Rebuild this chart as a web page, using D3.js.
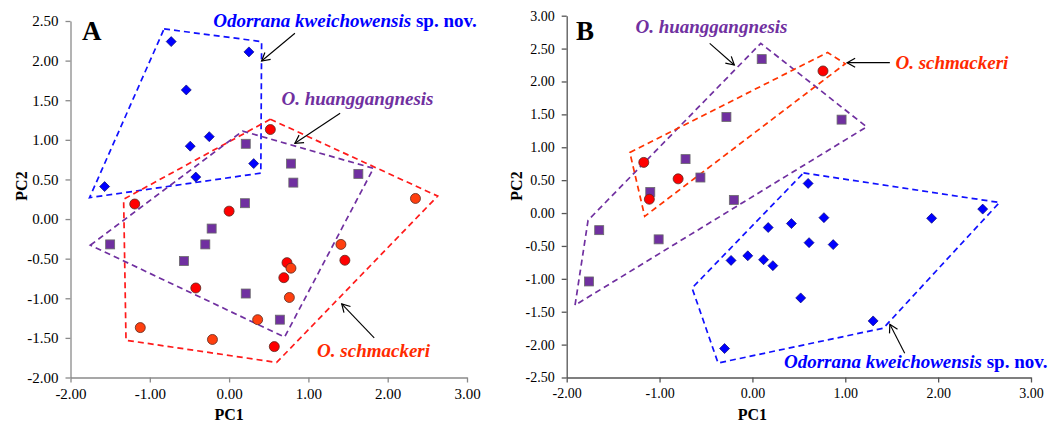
<!DOCTYPE html>
<html>
<head>
<meta charset="utf-8">
<script src="https://cdn.jsdelivr.net/npm/d3@7"></script>
<style>
  body { margin: 0; background: #fff; }
  svg text { font-family: 'Liberation Serif', Tinos, 'Times New Roman', Times, 'DejaVu Serif', serif !important; }
</style>
</head>
<body>
<svg id="chart" width="1064" height="423"></svg>
<script>
// ---- data: panel A ----
const aKweichowensis = [[-0.73, 2.24], [0.25, 2.11], [-0.54, 1.63], [-0.49, 0.92], [-0.25, 1.04],
  [-0.42, 0.53], [0.31, 0.70], [-1.57, 0.41]];
const aHuanggangnesis = [[0.21, 0.95], [0.20, 0.20], [0.78, 0.70], [0.81, 0.46], [1.63, 0.57],
  [-1.50, -0.32], [-0.22, -0.12], [-0.30, -0.32], [-0.57, -0.53], [0.21, -0.94], [0.64, -1.27]];
const aSchmackeriRed = [[0.52, 1.13], [-1.19, 0.19], [0.00, 0.10], [-0.42, -0.87], [1.46, -0.52],
  [0.73, -0.55], [0.69, -0.74], [0.57, -1.61]];
const aSchmackeriOrange = [[2.35, 0.26], [-1.12, -1.37], [-0.21, -1.52], [1.41, -0.32],
  [0.78, -0.62], [0.76, -0.99], [0.36, -1.27]];
const aHullKweichowensis = [[-0.82, 2.40], [0.41, 2.24], [0.40, 0.58], [-1.76, 0.27]];
const aHullSchmackeri = [[0.52, 1.26], [2.63, 0.29], [0.60, -1.81], [-1.30, -1.53], [-1.33, 0.25]];
const aHullHuanggangnesis = [[-1.75, -0.33], [0.17, 1.11], [1.82, 0.64], [0.70, -1.49]];

// ---- data: panel B ----
const bKweichowensis = [[0.60, 0.45], [2.48, 0.06], [1.93, -0.08], [0.77, -0.07], [0.42, -0.16],
  [0.61, -0.45], [0.87, -0.48], [0.17, -0.22], [0.22, -0.80], [-0.05, -0.65], [0.12, -0.71],
  [-0.23, -0.72], [0.52, -1.29], [1.30, -1.64], [-0.30, -2.06]];
const bHuanggangnesis = [[0.10, 2.34], [-0.28, 1.46], [-0.72, 0.82], [-0.56, 0.54], [-1.10, 0.32],
  [-0.20, 0.20], [0.96, 1.42], [-1.65, -0.26], [-1.01, -0.40], [-1.76, -1.04]];
const bSchmackeri = [[-1.17, 0.77], [-0.80, 0.52], [-1.11, 0.21], [0.76, 2.16]];
const bHullKweichowensis = [[0.55, 0.61], [2.66, 0.16], [1.41, -1.75], [-0.37, -2.28], [-0.65, -1.14]];
const bHullSchmackeri = [[-1.32, 0.92], [0.81, 2.44], [1.00, 2.27], [-1.16, -0.05]];
const bHullHuanggangnesis = [[-1.91, -1.40], [-1.77, -0.11], [0.09, 2.58], [1.23, 1.31]];

// ---- tick labels ----
const xTicks = [-2, -1, 0, 1, 2, 3];
const aYTicks = [-2, -1.5, -1, -0.5, 0, 0.5, 1, 1.5, 2, 2.5];
const bYTicks = [-2.5, -2, -1.5, -1, -0.5, 0, 0.5, 1, 1.5, 2, 2.5, 3];

const blue = "#0000FF", purple = "#7030A0", red = "#FF0000", orange = "#FF3F0F", labelRed = "#FF2A00";
const serif = "'Liberation Serif', Tinos, 'Times New Roman', Times, 'DejaVu Serif', serif";
const fmt = d => d.toFixed(2);

const svg = d3.select("#chart").attr("font-family", serif);

svg.append("defs").append("marker")
  .attr("id", "arr")
  .attr("markerUnits", "userSpaceOnUse")
  .attr("viewBox", "-10 -6 12 12")
  .attr("refX", 0).attr("refY", 0)
  .attr("markerWidth", 12).attr("markerHeight", 12)
  .attr("orient", "auto")
  .append("path")
  .attr("d", "M-8,-4.5 L0,0 L-8,4.5")
  .attr("fill", "none").attr("stroke", "#000").attr("stroke-width", 1.2);

function drawPanel(p) {
  const x = d3.scaleLinear().domain([-2, 3]).range(p.xr);
  const y = d3.scaleLinear().domain(p.yd).range(p.yr);
  const g = svg.append("g");

  const yAxis = g.append("g")
    .attr("transform", `translate(${p.xr[0]},0)`)
    .call(d3.axisLeft(y).tickValues(p.yTicks).tickFormat(fmt).tickSize(5).tickSizeOuter(0).tickPadding(7));
  const xAxis = g.append("g")
    .attr("transform", `translate(0,${p.yr[0]})`)
    .call(d3.axisBottom(x).tickValues(xTicks).tickFormat(fmt).tickSize(5).tickSizeOuter(0).tickPadding(6));
  [xAxis, yAxis].forEach(ax => {
    ax.attr("font-family", serif).attr("font-size", p.tickFont);
    ax.selectAll("path,line").attr("stroke", p.axisColor).attr("stroke-width", 1.3);
    ax.selectAll("text").attr("fill", "#000");
  });

  const line = d3.line().x(d => x(d[0])).y(d => y(d[1]));
  p.hulls.forEach(h => {
    g.append("path")
      .attr("d", line(h.pts) + "Z")
      .attr("fill", "none")
      .attr("stroke", h.color)
      .attr("stroke-width", 1.7)
      .attr("stroke-dasharray", "6,4");
  });

  // markers
  g.selectAll(".sq").data(p.squares).join("rect")
    .attr("x", d => x(d[0]) - 4.5).attr("y", d => y(d[1]) - 4.5)
    .attr("width", 9).attr("height", 9)
    .attr("fill", purple).attr("stroke", "#6b6b6b").attr("stroke-width", 0.8);
  g.selectAll(".dm").data(p.diamonds).join("path")
    .attr("d", d3.symbol().type(d3.symbolSquare).size(50))
    .attr("transform", d => `translate(${x(d[0])},${y(d[1])}) rotate(45)`)
    .attr("fill", blue).attr("stroke", "#000066").attr("stroke-width", 0.6);
  p.circles.forEach(c => {
    g.append("g").selectAll("circle").data(c.pts).join("circle")
      .attr("cx", d => x(d[0])).attr("cy", d => y(d[1])).attr("r", 5)
      .attr("fill", c.color).attr("stroke", "#5a2a20").attr("stroke-width", 0.8);
  });

  // arrows
  p.arrows.forEach(a => {
    g.append("line")
      .attr("x1", x(a[0][0])).attr("y1", y(a[0][1]))
      .attr("x2", x(a[1][0])).attr("y2", y(a[1][1]))
      .attr("stroke", "#000").attr("stroke-width", 1.1)
      .attr("marker-end", "url(#arr)");
  });

  // group labels
  p.labels.forEach(l => {
    const t = g.append("text")
      .attr("x", x(l.at[0])).attr("y", y(l.at[1]))
      .attr("fill", l.color)
      .attr("font-size", 19).attr("font-weight", "bold");
    t.append("tspan").attr("font-style", "italic").text(l.italic);
    if (l.plain) t.append("tspan").text(l.plain);
  });

  g.append("text").attr("x", p.letter[0]).attr("y", 40)
    .attr("font-size", 27).attr("font-weight", "bold").text(p.name);

  g.append("text")
    .attr("x", x(0)).attr("y", 420)
    .attr("text-anchor", "middle")
    .attr("font-size", 16).attr("font-weight", "bold").text("PC1");
  g.append("text")
    .attr("transform", `translate(${p.pc2x},186) rotate(-90)`)
    .attr("text-anchor", "middle")
    .attr("font-size", 16).attr("font-weight", "bold").text("PC2");
}

drawPanel({
  name: "A", letter: [82], pc2x: 27,
  xr: [70.5, 467], yd: [-2, 2.5], yr: [377.5, 21], yTicks: aYTicks,
  axisColor: "#8a8a8a", tickFont: 15,
  hulls: [
    { pts: aHullKweichowensis, color: "#1010FF" },
    { pts: aHullSchmackeri, color: "#FF1A1A" },
    { pts: aHullHuanggangnesis, color: purple }
  ],
  squares: aHuanggangnesis, diamonds: aKweichowensis,
  circles: [{ pts: aSchmackeriRed, color: red }, { pts: aSchmackeriOrange, color: orange }],
  arrows: [
    [[0.83, 2.345], [0.41, 1.995]],
    [[1.40, 1.335], [0.83, 0.956]],
    [[1.83, -1.50], [1.42, -1.07]]
  ],
  labels: [
    { at: [-0.20, 2.43], color: blue, italic: "Odorrana kweichowensis", plain: " sp. nov." },
    { at: [0.66, 1.44], color: purple, italic: "O. huanggangnesis" },
    { at: [1.11, -1.74], color: labelRed, italic: "O. schmackeri" }
  ]
});

drawPanel({
  name: "B", letter: [576], pc2x: 522,
  xr: [566.7, 1031], yd: [-2.5, 3], yr: [377.5, 15.7], yTicks: bYTicks,
  axisColor: "#555555", tickFont: 14,
  hulls: [
    { pts: bHullHuanggangnesis, color: purple },
    { pts: bHullSchmackeri, color: "#FF3300" },
    { pts: bHullKweichowensis, color: "#1010FF" }
  ],
  squares: bHuanggangnesis, diamonds: bKweichowensis,
  circles: [{ pts: bSchmackeri, color: red }],
  arrows: [
    [[-0.46, 2.58], [-0.195, 2.25]],
    [[1.48, 2.286], [1.02, 2.286]],
    [[1.64, -2.13], [1.48, -1.69]]
  ],
  labels: [
    { at: [-1.26, 2.74], color: purple, italic: "O. huanggangnesis" },
    { at: [1.54, 2.19], color: labelRed, italic: "O. schmackeri" },
    { at: [0.34, -2.35], color: blue, italic: "Odorrana kweichowensis", plain: " sp. nov." }
  ]
});
</script>
</body>
</html>
